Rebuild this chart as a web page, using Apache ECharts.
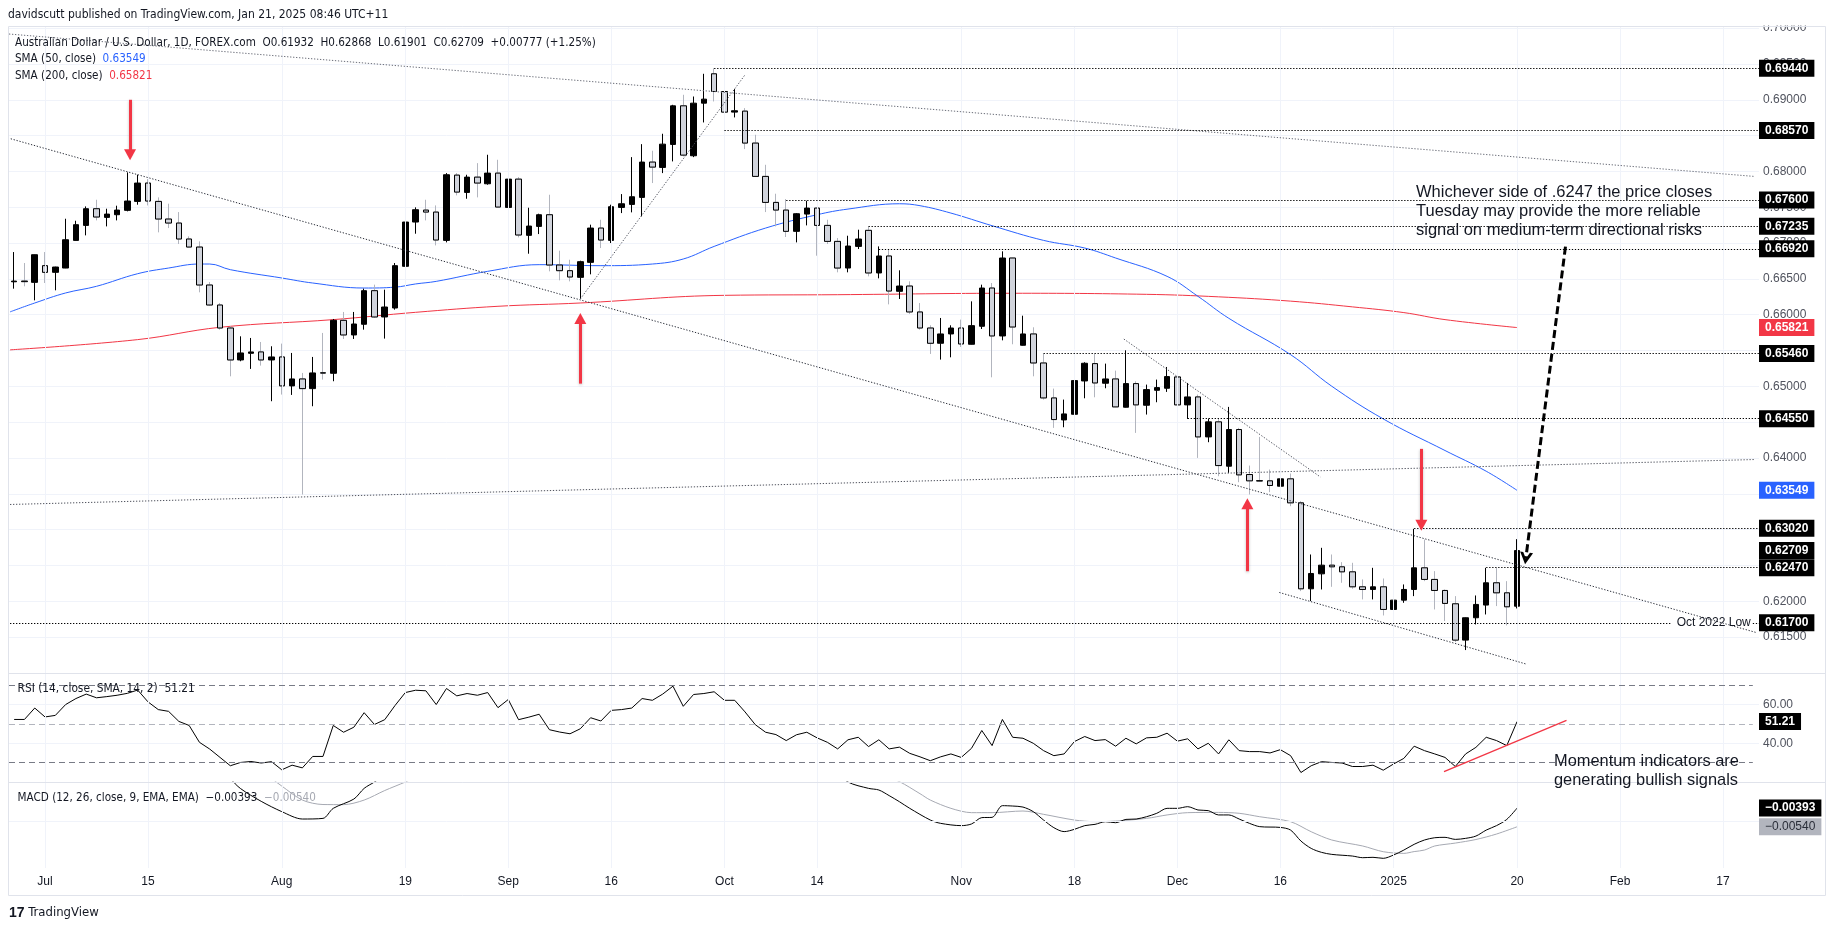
<!DOCTYPE html>
<html>
<head>
<meta charset="utf-8">
<title>AUD/USD daily</title>
<script src="https://cdn.jsdelivr.net/npm/echarts@6.0.0/dist/echarts.min.js"></script>
<style>
html,body{margin:0;padding:0;background:#ffffff;}
#chart{width:1835px;height:931px;}
</style>
</head>
<body>
<div id="chart"></div>
<script>
// ================= DATA =================
const dates = [
'2024-06-26','2024-06-27','2024-06-28',
'2024-07-01','2024-07-02','2024-07-03','2024-07-04','2024-07-05','2024-07-08','2024-07-09','2024-07-10','2024-07-11','2024-07-12','2024-07-15','2024-07-16','2024-07-17','2024-07-18','2024-07-19','2024-07-22','2024-07-23','2024-07-24','2024-07-25','2024-07-26','2024-07-29','2024-07-30','2024-07-31',
'2024-08-01','2024-08-02','2024-08-05','2024-08-06','2024-08-07','2024-08-08','2024-08-09','2024-08-12','2024-08-13','2024-08-14','2024-08-15','2024-08-16','2024-08-19','2024-08-20','2024-08-21','2024-08-22','2024-08-23','2024-08-26','2024-08-27','2024-08-28','2024-08-29','2024-08-30',
'2024-09-02','2024-09-03','2024-09-04','2024-09-05','2024-09-06','2024-09-09','2024-09-10','2024-09-11','2024-09-12','2024-09-13','2024-09-16','2024-09-17','2024-09-18','2024-09-19','2024-09-20','2024-09-23','2024-09-24','2024-09-25','2024-09-26','2024-09-27','2024-09-30',
'2024-10-01','2024-10-02','2024-10-03','2024-10-04','2024-10-07','2024-10-08','2024-10-09','2024-10-10','2024-10-11','2024-10-14','2024-10-15','2024-10-16','2024-10-17','2024-10-18','2024-10-21','2024-10-22','2024-10-23','2024-10-24','2024-10-25','2024-10-28','2024-10-29','2024-10-30','2024-10-31',
'2024-11-01','2024-11-04','2024-11-05','2024-11-06','2024-11-07','2024-11-08','2024-11-11','2024-11-12','2024-11-13','2024-11-14','2024-11-15','2024-11-18','2024-11-19','2024-11-20','2024-11-21','2024-11-22','2024-11-25','2024-11-26','2024-11-27','2024-11-28','2024-11-29',
'2024-12-02','2024-12-03','2024-12-04','2024-12-05','2024-12-06','2024-12-09','2024-12-10','2024-12-11','2024-12-12','2024-12-13','2024-12-16','2024-12-17','2024-12-18','2024-12-19','2024-12-20','2024-12-23','2024-12-24','2024-12-26','2024-12-27','2024-12-30','2024-12-31',
'2025-01-02','2025-01-03','2025-01-06','2025-01-07','2025-01-08','2025-01-09','2025-01-10','2025-01-13','2025-01-14','2025-01-15','2025-01-16','2025-01-17','2025-01-20',
'2025-01-21','2025-01-22','2025-01-23','2025-01-24','2025-01-27','2025-01-28','2025-01-29','2025-01-30','2025-01-31',
'2025-02-03','2025-02-04','2025-02-05','2025-02-06','2025-02-07','2025-02-10','2025-02-11','2025-02-12','2025-02-13','2025-02-14','2025-02-17','2025-02-18','2025-02-19','2025-02-20'
];

const openP = [
0.66460,0.66470,0.66452,0.66685,0.66592,0.66652,0.67038,0.67247,0.67480,0.67359,
0.67396,0.67457,0.67582,0.67838,0.67582,0.67336,0.67280,0.67057,0.66945,0.66415,
0.66136,0.65815,0.65369,0.65462,0.65481,0.65369,0.65411,0.65007,0.65104,0.64969,
0.65190,0.65183,0.65922,0.65718,0.65867,0.66336,0.65969,0.66094,0.66676,0.67294,
0.67461,0.67433,0.67038,0.67949,0.67707,0.67921,0.67828,0.67977,0.67498,0.67893,
0.67108,0.67233,0.67396,0.66694,0.66615,0.66522,0.66731,0.67210,0.67038,0.67498,
0.67540,0.67638,0.68131,0.68056,0.68377,0.68916,0.68219,0.68953,0.69363,0.69116,
0.68828,0.68842,0.68396,0.67931,0.67568,0.67461,0.67164,0.67405,0.67489,0.67247,
0.67024,0.66652,0.66954,0.67178,0.66583,0.66820,0.66327,0.66401,0.66039,0.65815,
0.65602,0.65732,0.65815,0.65588,0.65839,0.66373,0.65704,0.66792,0.65574,0.65732,
0.65327,0.64839,0.64532,0.64611,0.65076,0.65318,0.65044,0.65104,0.64709,0.65039,
0.64737,0.64946,0.64974,0.65132,0.64742,0.64853,0.64295,0.64505,0.63886,0.64398,
0.63770,0.63684,0.63682,0.63607,0.63710,0.63375,0.62175,0.62384,0.62505,0.62482,
0.62412,0.62203,0.62166,0.62203,0.61887,0.62017,0.62166,0.62468,0.62306,0.62152,
0.61966,0.61459,0.61771,0.61948,0.62259,0.62119,0.61932];
const highP = [
0.66875,0.66722,0.66840,0.66875,0.66670,0.67340,0.67312,0.67512,0.67605,0.67480,
0.67522,0.67987,0.67954,0.67894,0.67638,0.67550,0.67433,0.67094,0.67024,0.66457,
0.66164,0.65839,0.65699,0.65676,0.65620,0.65560,0.65597,0.65467,0.65188,0.65411,
0.65746,0.65941,0.66039,0.66039,0.66364,0.66420,0.66350,0.66722,0.67340,0.67499,
0.67605,0.67526,0.67977,0.67977,0.67954,0.68116,0.68233,0.68163,0.67931,0.67921,
0.67494,0.67410,0.67675,0.66894,0.66768,0.66754,0.67257,0.67326,0.67536,0.67684,
0.68200,0.68381,0.68289,0.68526,0.68930,0.69070,0.69046,0.69363,0.69440,0.69335,
0.69149,0.68884,0.68512,0.68093,0.67689,0.67614,0.67419,0.67591,0.67495,0.67326,
0.67071,0.67103,0.67187,0.67233,0.66954,0.66908,0.66620,0.66466,0.66164,0.65853,
0.65955,0.65853,0.65932,0.66187,0.66420,0.66443,0.66885,0.66795,0.65987,0.65825,
0.65457,0.64969,0.64816,0.65104,0.65337,0.65457,0.65318,0.65220,0.65504,0.65071,
0.65025,0.65095,0.65271,0.65164,0.65048,0.64886,0.64551,0.64551,0.64714,0.64421,
0.63895,0.64295,0.63840,0.63817,0.63784,0.63398,0.62654,0.62747,0.62654,0.62547,
0.62538,0.62306,0.62468,0.62319,0.62096,0.62236,0.63012,0.62863,0.62422,0.62166,
0.62073,0.61775,0.62082,0.62468,0.62468,0.62282,0.62868];
const lowP = [
0.66364,0.66397,0.66201,0.66443,0.66341,0.66650,0.67035,0.67108,0.67317,0.67233,
0.67317,0.67443,0.67536,0.67526,0.67150,0.67210,0.66987,0.66940,0.66313,0.66127,
0.65792,0.65141,0.65351,0.65244,0.65290,0.64793,0.64886,0.64881,0.63491,0.64723,
0.65095,0.65072,0.65662,0.65662,0.65792,0.65955,0.65667,0.66071,0.66592,0.67131,
0.67317,0.66968,0.67010,0.67666,0.67619,0.67638,0.67815,0.67500,0.67495,0.67080,
0.66852,0.67126,0.66606,0.66480,0.66466,0.66220,0.66564,0.66931,0.67001,0.67419,
0.67429,0.67373,0.67838,0.67977,0.68140,0.68210,0.68200,0.68684,0.68977,0.68558,
0.68754,0.68312,0.67925,0.67433,0.67233,0.67085,0.67010,0.67247,0.66824,0.66987,
0.66592,0.66592,0.66917,0.66536,0.66508,0.66145,0.66220,0.66011,0.65792,0.65453,
0.65374,0.65406,0.65550,0.65585,0.65801,0.65127,0.65643,0.65588,0.65570,0.65141,
0.64816,0.64421,0.64430,0.64490,0.64834,0.64848,0.64974,0.64710,0.64705,0.64351,
0.64607,0.64779,0.64923,0.64430,0.64546,0.64002,0.64221,0.63747,0.63793,0.63663,
0.63491,0.63675,0.63524,0.63468,0.63328,0.62143,0.62003,0.62166,0.62203,0.62259,
0.62175,0.62027,0.62027,0.61803,0.61841,0.61980,0.62073,0.62282,0.61887,0.61724,
0.61431,0.61320,0.61678,0.61817,0.61934,0.61664,0.61901];
const closeP = [
0.66470,0.66462,0.66838,0.66592,0.66666,0.67047,0.67257,0.67480,0.67364,0.67405,
0.67461,0.67587,0.67838,0.67587,0.67336,0.67280,0.67057,0.66945,0.66415,0.66136,
0.65815,0.65369,0.65467,0.65481,0.65369,0.65411,0.65007,0.65104,0.64969,0.65188,
0.65186,0.65922,0.65718,0.65871,0.66336,0.65969,0.66108,0.66685,0.67294,0.67466,
0.67433,0.67043,0.67954,0.67712,0.67921,0.67838,0.67977,0.67503,0.67893,0.67113,
0.67238,0.67396,0.66694,0.66615,0.66527,0.66741,0.67210,0.67043,0.67508,0.67549,
0.67647,0.68131,0.68061,0.68381,0.68916,0.68228,0.68953,0.69009,0.69116,0.68828,
0.68847,0.68396,0.67931,0.67568,0.67461,0.67164,0.67410,0.67489,0.67247,0.67024,
0.66652,0.66959,0.67057,0.66583,0.66820,0.66331,0.66401,0.66039,0.65815,0.65602,
0.65732,0.65815,0.65592,0.65848,0.66373,0.65704,0.66792,0.65829,0.65732,0.65327,
0.64839,0.64537,0.64616,0.65081,0.65323,0.65048,0.65104,0.64714,0.65039,0.64742,
0.64955,0.64983,0.65137,0.64742,0.64853,0.64295,0.64505,0.63895,0.64398,0.63765,
0.63682,0.63680,0.63617,0.63710,0.63375,0.62175,0.62389,0.62505,0.62482,0.62412,
0.62203,0.62166,0.62203,0.61887,0.62017,0.62166,0.62468,0.62306,0.62152,0.61971,
0.61459,0.61771,0.61957,0.62259,0.62119,0.61924,0.62709];

// moving averages: [bar index, value]
const sma50 = [[-0.4,0.66040],[2,0.66164],[5,0.66304],[8,0.66397],[12,0.66573],[15,0.66652],[18,0.66708],[19,0.66708],[21,0.66629],[26,0.66513],[29,0.66443],[34,0.66373],[37,0.66385],[39,0.66430],[41,0.66466],[46,0.66606],[51,0.66699],[57,0.66685],[62,0.66708],[65,0.66778],[68,0.66954],[73,0.67210],[78,0.67396],[81,0.67475],[86,0.67549],[88,0.67522],[91,0.67419],[95,0.67243],[100,0.67038],[104,0.66931],[107,0.66792],[112,0.66536],[115,0.66257],[118,0.65950],[124,0.65443],[128,0.65002],[133,0.64546],[139,0.64105],[143,0.63816],[146,0.63549]];
const sma200 = [[-0.4,0.65510],[12,0.65653],[20,0.65825],[31,0.65932],[39,0.66034],[47,0.66118],[55,0.66164],[69,0.66271],[80,0.66280],[97,0.66300],[110,0.66285],[117,0.66250],[124,0.66190],[130,0.66110],[135,0.66030],[139,0.65932],[146,0.65821]];

// RSI(14), one value per bar
const rsi14 = [
52.3,52.3,58.2,53.6,54.4,60.0,63.1,65.4,63.5,64.1,
64.8,65.8,67.5,61.4,57.4,56.5,51.3,49.2,40.5,37.0,
32.7,28.4,30.1,30.6,29.8,30.5,26.3,28.7,27.3,33.2,
33.2,49.2,45.7,48.3,55.8,49.7,52.2,59.5,66.2,67.4,
67.1,60.0,68.3,64.5,65.7,64.8,66.2,58.4,62.6,52.2,
53.5,55.0,47.0,45.8,44.9,47.5,53.2,51.5,57.0,57.4,
58.2,63.1,62.2,65.4,69.5,59.1,65.2,65.7,66.6,62.2,
62.2,56.2,49.6,45.7,44.5,41.4,44.4,45.7,42.8,40.5,
37.1,41.8,43.1,38.3,41.8,37.1,38.0,34.8,33.0,31.0,
33.0,34.5,32.7,37.4,46.6,38.8,52.3,43.1,42.6,40.0,
36.2,33.6,34.5,40.9,43.5,41.4,41.9,38.5,42.6,39.7,
42.8,43.1,45.2,41.1,42.3,37.1,40.0,34.5,41.8,36.2,
35.7,35.7,35.0,36.7,33.6,24.9,28.4,30.5,30.1,29.8,
28.0,28.0,28.7,26.1,29.3,32.2,38.5,36.2,34.5,32.7,
28.0,34.5,37.9,43.1,41.4,38.8,51.21];

// MACD (12,26,9): [bar index, value]
const macdLine = [[0,0.0012],[4,0.0015],[7,0.0026],[12,0.0038],[15,0.0034],[18,0.0018],[20,-0.0004],[21,-0.0016],[22,-0.0024],[24,-0.0034],[26,-0.00421],[28,-0.00479],[30,-0.00474],[31,-0.00395],[33,-0.00322],[34,-0.00238],[35,-0.00188],[37,-0.0008],[40,0.0006],[45,0.0014],[50,0.0013],[55,0.0008],[60,0.0016],[65,0.0034],[68,0.0044],[72,0.0032],[76,0.0012],[79,-0.0006],[81,-0.00188],[83,-0.00238],[84,-0.00251],[85,-0.00295],[86,-0.00343],[87,-0.00395],[89,-0.00487],[90,-0.00513],[92,-0.00531],[93,-0.00518],[94,-0.00468],[95,-0.00466],[96,-0.00374],[97,-0.00377],[98,-0.00385],[99,-0.00421],[100,-0.00487],[101,-0.00547],[102,-0.00578],[103,-0.00560],[104,-0.00531],[105,-0.00521],[106,-0.00500],[107,-0.00508],[108,-0.00482],[109,-0.00479],[110,-0.00461],[111,-0.00434],[112,-0.00395],[113,-0.00395],[114,-0.00382],[115,-0.00408],[116,-0.00413],[117,-0.00447],[118,-0.00447],[119,-0.00479],[120,-0.00513],[121,-0.00539],[123,-0.00545],[124,-0.00566],[125,-0.00652],[126,-0.00710],[127,-0.00741],[128,-0.00757],[130,-0.00770],[131,-0.00783],[132,-0.00780],[133,-0.00788],[134,-0.00762],[135,-0.00723],[136,-0.00678],[137,-0.00644],[138,-0.00626],[139,-0.00623],[140,-0.00639],[141,-0.00631],[142,-0.00613],[143,-0.00566],[144,-0.00531],[145,-0.00482],[146,-0.00393]];
const macdSignal = [[0,0.0010],[8,0.0022],[14,0.0030],[18,0.0026],[21,0.0012],[23,-0.0004],[25,-0.0016],[26,-0.0022],[28,-0.0033],[30,-0.00365],[32,-0.00366],[34,-0.00330],[36,-0.00255],[38,-0.00188],[41,-0.0008],[46,0.0006],[52,0.0011],[58,0.0011],[63,0.0018],[68,0.0032],[72,0.0034],[76,0.0024],[80,0.0006],[83,-0.0008],[86,-0.00185],[88,-0.0028],[89,-0.00330],[91,-0.00395],[93,-0.00429],[95,-0.00429],[98,-0.00416],[100,-0.00442],[103,-0.00487],[105,-0.00500],[107,-0.00495],[110,-0.00474],[112,-0.00447],[114,-0.00429],[117,-0.00427],[119,-0.00434],[121,-0.00461],[124,-0.00500],[126,-0.00579],[128,-0.00644],[131,-0.00691],[133,-0.00736],[135,-0.00749],[136,-0.00735],[137,-0.00723],[138,-0.00691],[140,-0.00668],[142,-0.00640],[144,-0.00597],[146,-0.00540]];

// time-axis tick labels
const xTickDates = ['2024-07-01','2024-07-15','2024-08-01','2024-08-19','2024-09-02','2024-09-16','2024-10-01','2024-10-14','2024-11-01','2024-11-18','2024-12-02','2024-12-16','2025-01-02','2025-01-20','2025-02-03','2025-02-17'];
const xTickText  = ['Jul','15','Aug','19','Sep','16','Oct','14','Nov','18','Dec','16','2025','20','Feb','17'];

// horizontal levels (price, first bar of the ray)
const levelPrices = [0.69440,0.68570,0.67600,0.67235,0.66920,0.65460,0.64550,0.63020,0.62470];
const levelFrom   = [68,69,75,83,84,100,114,136,143];
const octLowPrice = 0.61700;
const octLowText  = 'Oct 2022 Low';

// drawn trend lines: [[bar, price],[bar, price]]
const trendTop   = [[-0.5,0.69918],[169.1,0.67930]];
const trendMain  = [[-0.33,0.68456],[169.3,0.61562]];
const trendSep   = [[55,0.66220],[71,0.69349]];
const trendFlat  = [[-0.4,0.63352],[169.0,0.63979]];
const trendNov   = [[107.8,0.65661],[126.9,0.63735]];
const trendLow   = [[122.9,0.62124],[146.9,0.61124]];
const redArrows  = [[[11.26,0.69000],[11.26,0.68233]],[[55,0.65039],[55,0.65946]],[[119.8,0.62421],[119.8,0.63361]],[[136.7,0.64128],[136.7,0.63063]]];
const bigArrow   = [[150.7,0.66950],[146.85,0.62600]];
const rsiBands   = [70,50,30];
const rsiTrend   = [[138.9,25.4],[150.8,51.8]];

const titleText  = 'davidscutt published on TradingView.com, Jan 21, 2025 08:46 UTC+11';
const symbolText = 'Australian Dollar / U.S. Dollar, 1D, FOREX.com';
const changeText = '+0.00777 (+1.25%)';
const noteTop    = ['Whichever side of .6247 the price closes','Tuesday may provide the more reliable','signal on medium-term directional risks'];
const noteBottom = ['Momentum indicators are','generating bullish signals'];

// ================= CHART =================
const FONT = '"Liberation Sans", Arial, Helvetica, sans-serif';
const UIFONT = '"Liberation Sans Narrow", "DejaVu Sans Condensed", "Liberation Sans", sans-serif';
const TXT = '#131722';
const N = dates.length;
const XMAX = N - 0.5;
const last = a => a[a.length - 1];
const lastV = a => a[a.length - 1][1];

const tickMap = {};
xTickDates.forEach((d, k) => { tickMap[d] = xTickText[k]; });
const tickIdx = xTickDates.map(d => dates.indexOf(d));

const candleAll = openP.map((o, i) => [o, closeP[i], lowP[i], highP[i]]);
const candleDownBody = openP.map((o, i) => closeP[i] < o ? [o, closeP[i], closeP[i], o] : ['-', '-', '-', '-']);

const panes = [{top: 26, height: 647}, {top: 673, height: 109}, {top: 782, height: 86}];
const GRID_L = 9, GRID_W = 1750;

const dot = (c) => ({type: [1.3, 1.7], color: c, width: 1});
function seg(pts, style, extra) {
  return [Object.assign({coord: pts[0], lineStyle: style}, extra || {}), {coord: pts[1]}];
}
function boxLabel(text, bg, fg, bold) {
  return {show: true, position: 'end', distance: 0, formatter: text, backgroundColor: bg, color: fg,
    fontWeight: bold ? 'bold' : 'normal', fontSize: 12, fontFamily: FONT, padding: [2, 6, 2, 6], lineHeight: 13};
}
function boxOnly(v, text, bg, fg, bold) {
  return [{coord: [XMAX - 1, v], lineStyle: {width: 0, color: 'rgba(0,0,0,0)'}, label: boxLabel(text, bg, fg, bold)}, {coord: [XMAX, v]}];
}
function vGrid(xi, yi) {
  return {type: 'line', xAxisIndex: xi, yAxisIndex: yi, data: [], z: 1, silent: true,
    markLine: {silent: true, symbol: ['none', 'none'], animation: false, label: {show: false},
      lineStyle: {color: '#f0f3fa', width: 1, type: 'solid'},
      data: tickIdx.map(i => ({xAxis: i}))}};
}

// price pane annotations
const priceMarks = [];
priceMarks.push(seg(trendTop, dot('#6a6d78')));
priceMarks.push(seg(trendMain, dot('#2a2e39')));
priceMarks.push(seg(trendSep, dot('#50535e')));
priceMarks.push(seg(trendFlat, dot('#50535e')));
priceMarks.push(seg(trendNov, dot('#50535e')));
priceMarks.push(seg(trendLow, dot('#2a2e39')));
levelPrices.forEach((p, k) => {
  priceMarks.push([{coord: [levelFrom[k], p], lineStyle: dot('#000000'), label: boxLabel(p.toFixed(5), '#000000', '#ffffff', true)}, {coord: [XMAX, p]}]);
});
priceMarks.push(seg([[-0.4, octLowPrice], [160.9, octLowPrice]], dot('#000000')));
priceMarks.push([{coord: [168.9, octLowPrice], lineStyle: dot('#000000'), label: boxLabel(octLowPrice.toFixed(5), '#000000', '#ffffff', true)}, {coord: [XMAX, octLowPrice]}]);
priceMarks.push(boxOnly(lastV(sma200), lastV(sma200).toFixed(5), '#f23645', '#ffffff', true));
priceMarks.push(boxOnly(lastV(sma50), lastV(sma50).toFixed(5), '#2962ff', '#ffffff', true));
priceMarks.push(boxOnly(last(closeP), last(closeP).toFixed(5), '#000000', '#ffffff', true));
redArrows.forEach(a => {
  priceMarks.push([{coord: a[0], lineStyle: {color: '#f23645', width: 3, type: 'solid', shadowBlur: 3, shadowColor: 'rgba(0,0,0,0.25)', shadowOffsetY: 1}, symbol: 'none'},
                   {coord: a[1], symbol: 'triangle', symbolSize: [12, 11]}]);
});
priceMarks.push([{coord: bigArrow[0], lineStyle: {color: '#000000', width: 3, type: [8, 4]}, symbol: 'none'},
                 {coord: bigArrow[1], symbol: 'path://M0,10 L5,0 L10,10 L7.6,10 L5,4.8 L2.4,10 Z', symbolSize: [13, 12]}]);

// RSI pane marks
const rsiMarks = [];
rsiBands.forEach(b => {
  rsiMarks.push(seg([[-0.5, b], [XMAX - 0.6, b]], {type: [6, 4], color: b === 50 ? '#b2b5be' : '#787b86', width: 1}));
});
rsiMarks.push(seg(rsiTrend, {type: 'solid', color: '#f23645', width: 1.3}));
rsiMarks.push(boxOnly(last(rsi14), last(rsi14).toFixed(2), '#000000', '#ffffff', true));

// MACD pane marks
const macdMarks = [];
macdMarks.push(seg([[-0.5, -0.005], [XMAX, -0.005]], {type: 'solid', color: '#f0f3fa', width: 1}));
const fmtM = v => (v < 0 ? '\u2212' : '') + Math.abs(v).toFixed(5);
macdMarks.push(boxOnly(lastV(macdLine), fmtM(lastV(macdLine)), '#000000', '#ffffff', true));
macdMarks.push(boxOnly(lastV(macdSignal), fmtM(lastV(macdSignal)), '#b2b5be', '#2a2e39', false));

const chart = echarts.init(document.getElementById('chart'), null, {renderer: 'canvas'});

const xCat = (g) => ({
  type: 'category', gridIndex: g, data: dates, boundaryGap: true,
  axisLine: {show: false}, axisTick: {show: false}, splitLine: {show: false},
  axisLabel: g === 2 ? {
    interval: (i, v) => tickMap[v] !== undefined,
    formatter: v => tickMap[v] || '',
    color: TXT, fontSize: 12, fontFamily: FONT, margin: 8
  } : {show: false}
});
const xVal = (g) => ({type: 'value', gridIndex: g, min: -0.5, max: XMAX, show: false});

const option = {
  animation: false,
  backgroundColor: '#ffffff',
  grid: panes.map(p => ({left: GRID_L, width: GRID_W, top: p.top, height: p.height, containLabel: false, outerBoundsMode: 'none', show: false})),
  xAxis: [xCat(0), xCat(1), xCat(2), xVal(0), xVal(1), xVal(2)],
  yAxis: [
    {type: 'value', gridIndex: 0, position: 'right', min: 0.61, max: 0.7003, interval: 0.005,
      axisLine: {show: false}, axisTick: {show: false},
      splitLine: {show: true, lineStyle: {color: '#f0f3fa', width: 1}},
      axisLabel: {color: '#50535e', fontSize: 12, fontFamily: FONT, margin: 4,
        formatter: v => { const k = Math.round(v / 0.005); if (Math.abs(v - k * 0.005) > 1e-7 || k * 0.005 < 0.6125) return ''; return (k * 0.005).toFixed(5); }}},
    {type: 'value', gridIndex: 1, position: 'right', min: 20, max: 76.3, interval: 20,
      axisLine: {show: false}, axisTick: {show: false},
      splitLine: {show: true, lineStyle: {color: '#f0f3fa', width: 1}},
      axisLabel: {color: '#50535e', fontSize: 12, fontFamily: FONT, margin: 4,
        formatter: v => (Math.abs(v - 40) < 1e-6 || Math.abs(v - 60) < 1e-6) ? v.toFixed(2) : ''}},
    {type: 'value', gridIndex: 2, position: 'right', min: -0.00864, max: -0.00188,
      axisLine: {show: false}, axisTick: {show: false}, splitLine: {show: false}, axisLabel: {show: false}}
  ],
  series: [
    vGrid(3, 0), vGrid(4, 1), vGrid(5, 2),
    {name: 'SMA200', type: 'line', xAxisIndex: 3, yAxisIndex: 0, data: sma200, smooth: 0.4, symbol: 'none', showSymbol: false, silent: true, z: 2,
      lineStyle: {color: '#f23645', width: 1}},
    {name: 'SMA50', type: 'line', xAxisIndex: 3, yAxisIndex: 0, data: sma50, smooth: 0.4, symbol: 'none', showSymbol: false, silent: true, z: 2,
      lineStyle: {color: '#2962ff', width: 1}},
    {name: 'AUDUSD', type: 'candlestick', xAxisIndex: 0, yAxisIndex: 0, data: candleAll, barWidth: 6, silent: true, z: 3,
      itemStyle: {color: '#000000', color0: '#d1d4dc', borderColor: '#000000', borderColor0: '#b2b5be', borderWidth: 1}},
    {name: 'AUDUSD bodies', type: 'candlestick', xAxisIndex: 0, yAxisIndex: 0, data: candleDownBody, barWidth: 6, silent: true, z: 4,
      itemStyle: {color: '#000000', color0: '#d1d4dc', borderColor: '#000000', borderColor0: '#000000', borderWidth: 1}},
    {name: 'drawings', type: 'line', xAxisIndex: 3, yAxisIndex: 0, data: [], z: 5, silent: true,
      markLine: {silent: true, animation: false, symbol: ['none', 'none'], label: {show: false}, data: priceMarks},
      markPoint: {silent: true, animation: false, data: [{coord: [165.1, octLowPrice], symbol: 'circle', symbolSize: 0,
        label: {show: true, position: 'inside', formatter: octLowText, color: TXT, fontSize: 12, fontFamily: FONT}}]}},
    {name: 'RSI', type: 'line', xAxisIndex: 4, yAxisIndex: 1, data: rsi14.map((v, i) => [i, v]), symbol: 'none', showSymbol: false, silent: true, z: 3,
      lineStyle: {color: '#000000', width: 1},
      markLine: {silent: true, animation: false, symbol: ['none', 'none'], label: {show: false}, data: rsiMarks}},
    {name: 'MACD', type: 'line', xAxisIndex: 5, yAxisIndex: 2, data: macdLine, smooth: 0.3, symbol: 'none', showSymbol: false, silent: true, z: 3,
      lineStyle: {color: '#000000', width: 1},
      markLine: {silent: true, animation: false, symbol: ['none', 'none'], label: {show: false}, data: macdMarks}},
    {name: 'Signal', type: 'line', xAxisIndex: 5, yAxisIndex: 2, data: macdSignal, smooth: 0.3, symbol: 'none', showSymbol: false, silent: true, z: 2,
      lineStyle: {color: '#a6a9b2', width: 1}}
  ],
  graphic: [
    {type: 'rect', silent: true, z: 50, shape: {x: 1760, y: 0, width: 75, height: 25.5}, style: {fill: '#ffffff'}},
    {type: 'rect', silent: true, z: 60, shape: {x: 8.5, y: 26.5, width: 1817, height: 869}, style: {fill: 'none', stroke: '#e0e3eb', lineWidth: 1}},
    {type: 'line', silent: true, z: 60, shape: {x1: 8.5, y1: 673.5, x2: 1825.5, y2: 673.5}, style: {stroke: '#e0e3eb', lineWidth: 1}},
    {type: 'line', silent: true, z: 60, shape: {x1: 8.5, y1: 782.5, x2: 1825.5, y2: 782.5}, style: {stroke: '#e0e3eb', lineWidth: 1}},
    {type: 'text', silent: true, z: 60, x: 8, y: 15, style: {text: titleText, fill: TXT, fontSize: 12, fontFamily: UIFONT, verticalAlign: 'middle'}},
    {type: 'text', silent: true, z: 60, x: 15, y: 42.7, style: {
      text: symbolText + '  O' + openP[146].toFixed(5) + '  H' + highP[146].toFixed(5) + '  L' + lowP[146].toFixed(5) + '  C' + closeP[146].toFixed(5) + '  ' + changeText,
      fill: TXT, fontSize: 11.6, fontFamily: UIFONT, verticalAlign: 'middle'}},
    {type: 'text', silent: true, z: 60, x: 15, y: 59.3, style: {
      text: 'SMA (50, close)  {b|' + lastV(sma50).toFixed(5) + '}', fill: TXT, fontSize: 11.6, fontFamily: UIFONT, verticalAlign: 'middle',
      rich: {b: {fill: '#2962ff', fontSize: 11.6, fontFamily: UIFONT}}}},
    {type: 'text', silent: true, z: 60, x: 15, y: 76, style: {
      text: 'SMA (200, close)  {r|' + lastV(sma200).toFixed(5) + '}', fill: TXT, fontSize: 11.6, fontFamily: UIFONT, verticalAlign: 'middle',
      rich: {r: {fill: '#f23645', fontSize: 11.6, fontFamily: UIFONT}}}},
    {type: 'text', silent: true, z: 60, x: 17.6, y: 689, style: {
      text: 'RSI (14, close, SMA, 14, 2)  ' + last(rsi14).toFixed(2), fill: TXT, fontSize: 11.8, fontFamily: UIFONT, verticalAlign: 'middle'}},
    {type: 'text', silent: true, z: 60, x: 17.6, y: 797.7, style: {
      text: 'MACD (12, 26, close, 9, EMA, EMA)  ' + fmtM(lastV(macdLine)) + '  {g|' + fmtM(lastV(macdSignal)) + '}',
      fill: TXT, fontSize: 11.6, fontFamily: UIFONT, verticalAlign: 'middle', rich: {g: {fill: '#a6a9b2', fontSize: 11.6, fontFamily: UIFONT}}}},
    {type: 'text', silent: true, z: 60, x: 1416, y: 192.7, style: {text: noteTop[0], fill: TXT, fontSize: 16.5, fontFamily: FONT, verticalAlign: 'middle'}},
    {type: 'text', silent: true, z: 60, x: 1416, y: 211.7, style: {text: noteTop[1], fill: TXT, fontSize: 16.5, fontFamily: FONT, verticalAlign: 'middle'}},
    {type: 'text', silent: true, z: 60, x: 1416, y: 230.4, style: {text: noteTop[2], fill: TXT, fontSize: 16.5, fontFamily: FONT, verticalAlign: 'middle'}},
    {type: 'text', silent: true, z: 60, x: 1554, y: 761, style: {text: noteBottom[0], fill: TXT, fontSize: 16.4, fontFamily: FONT, verticalAlign: 'middle'}},
    {type: 'text', silent: true, z: 60, x: 1554, y: 780, style: {text: noteBottom[1], fill: TXT, fontSize: 16.4, fontFamily: FONT, verticalAlign: 'middle'}},
    {type: 'text', silent: true, z: 60, x: 9, y: 913, style: {text: '{l|17} TradingView', fill: TXT, fontSize: 13, fontFamily: UIFONT, verticalAlign: 'middle',
      rich: {l: {fill: TXT, fontSize: 14, fontWeight: 'bold', fontFamily: FONT}}}}
  ]
};
chart.setOption(option);
</script>
</body>
</html>
